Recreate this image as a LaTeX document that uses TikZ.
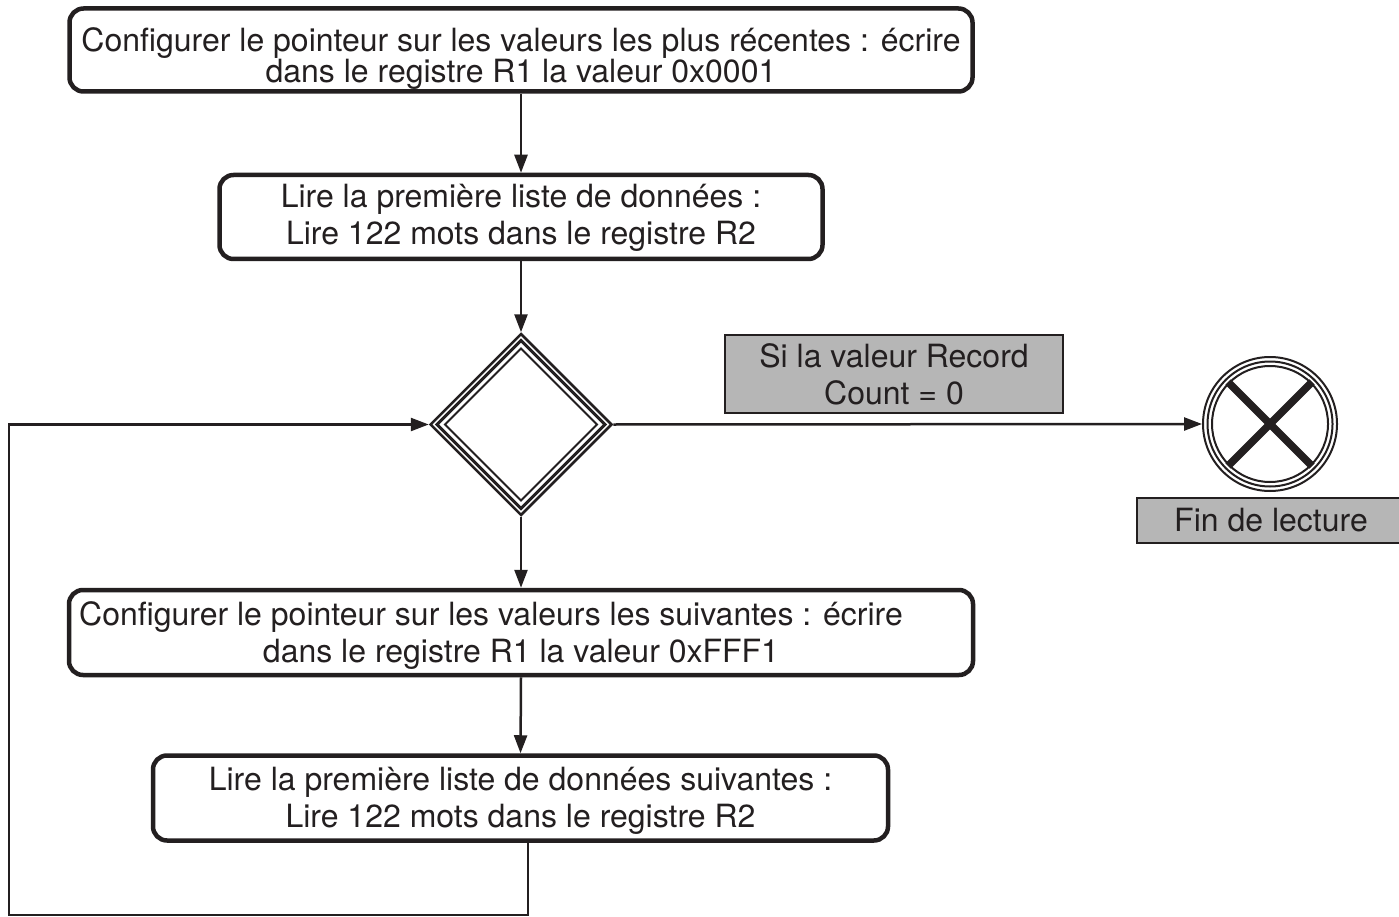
\documentclass[tikz,border=0pt]{standalone}
\usepackage{fontspec}
\setmainfont{TeX Gyre Heros}
\usetikzlibrary{shapes.geometric,arrows.meta}
\definecolor{ink}{HTML}{231F20}
\definecolor{grayfill}{HTML}{B6B6B6}
\begin{document}
\begin{tikzpicture}[x=1pt,y=-1pt,
  stepbox/.style={draw=ink, line width=4.5pt, rounded corners=14pt, inner sep=0pt},
  steptext/.style={inner sep=0pt, align=center, font=\fontsize{32}{37}\selectfont, text=ink},
  labelbox/.style={draw=ink, line width=2pt, fill=grayfill, inner sep=0pt, align=center, text=ink},
  flow/.style={draw=ink, line width=2.5pt, -{Triangle[length=18pt,width=13pt]}}]
\useasboundingbox (0,0) rectangle (1399,917);

\node[stepbox, minimum width=903pt, minimum height=83pt] (b1) at (521,50) {};
\node[steptext, font=\fontsize{32}{31}\selectfont] (t1) at (521,59)
  {Configurer le pointeur sur les valeurs les plus récentes : écrire\\dans le registre R1 la valeur 0x0001};
\node[stepbox, minimum width=603pt, minimum height=84pt] (b2) at (521,217) {};
\node[steptext] (t2) at (521,218)
  {Lire la première liste de données :\\Lire 122 mots dans le registre R2};
\node[draw=ink, line width=2.5pt, diamond, aspect=1, minimum width=182pt, minimum height=182pt, inner sep=0pt] (dec) at (521,424.5) {};
\draw[ink, line width=3pt] (dec.center) ++(0,-84) -- ++(84,84) -- ++(-84,84) -- ++(-84,-84) -- cycle;
\draw[ink, line width=2pt] (dec.center) ++(0,-76) -- ++(76,76) -- ++(-76,76) -- ++(-76,-76) -- cycle;
\node[stepbox, minimum width=904pt, minimum height=85pt] (b3) at (521,632.5) {};
\node[steptext] (t3) at (521,636)
  {Configurer le pointeur sur les valeurs les suivantes : écrire\hspace*{60pt}\\dans le registre R1 la valeur 0xFFF1};
\node[stepbox, minimum width=735pt, minimum height=85pt] (b4) at (520.5,798) {};
\node[steptext] (t4) at (520.5,801)
  {Lire la première liste de données suivantes :\\Lire 122 mots dans le registre R2};

\node[labelbox, font=\fontsize{32}{37}\selectfont, minimum width=338pt, minimum height=78pt] (cond) at (894,374)
  {Si la valeur Record\\Count = 0};

\node[draw=ink, line width=2pt, circle, minimum size=134pt, inner sep=0pt] (fin) at (1270,424) {};
\draw[ink, line width=2pt] (fin.center) circle[radius=62.5];
\draw[ink, line width=2pt] (fin.center) circle[radius=58];
\draw[ink, line width=7.5pt] (fin.center) ++(-42,-42) -- ++(84,84);
\draw[ink, line width=7.5pt] (fin.center) ++(42,-42) -- ++(-84,84);

\node[labelbox, font=\fontsize{32}{31}\selectfont, minimum width=290pt, minimum height=45pt] (finlabel) at (1282,520.5)
  {Fin de lecture\hspace*{22pt}};

\coordinate (l1) at (528,915);
\coordinate (l2) at (9,915);
\coordinate (l3) at (9,424.5);

\draw[flow] (b1.south) -- (b2.north);
\draw[flow] (b2.south) -- (dec.north);
\draw[flow] (dec.south) -- (b3.north);
\draw[flow] (b3.south) -- (b4.north);
\draw[flow] (b4.south -| l1) -- (l1) -- (l2) -- (l3) -- (dec.west);
\draw[flow] (dec.east) -- (fin.west);
\end{tikzpicture}
\end{document}
